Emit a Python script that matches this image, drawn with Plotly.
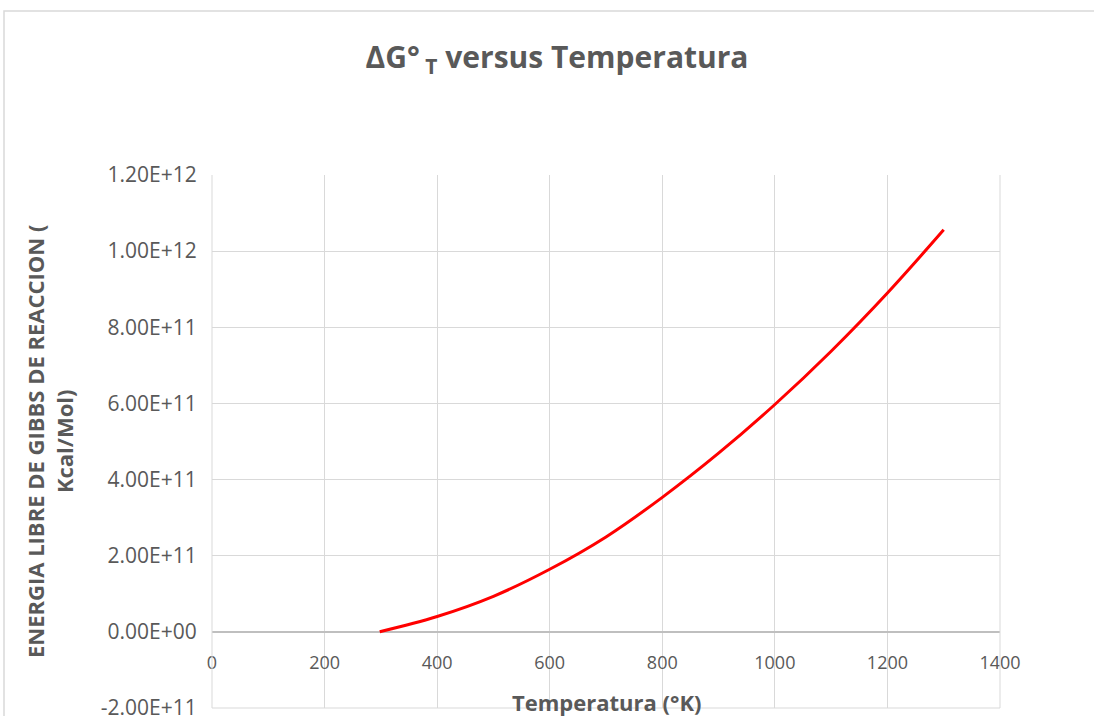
import plotly.graph_objects as go

temperatura = [298, 400, 500, 600, 700, 800, 900, 1000, 1100, 1200, 1300]
delta_g = [0.0, 0.040e12, 0.093e12, 0.164e12, 0.249e12, 0.353e12, 0.469e12, 0.597e12, 0.737e12, 0.890e12, 1.056e12]

y_tickvals = [-2e11, 0, 2e11, 4e11, 6e11, 8e11, 1e12, 1.2e12]
y_ticktext = ["-2.00E+11", "0.00E+00", "2.00E+11", "4.00E+11", "6.00E+11", "8.00E+11", "1.00E+12", "1.20E+12"]
x_tickvals = [0, 200, 400, 600, 800, 1000, 1200, 1400]

W, H = 1094, 716
L, R, T, B = 212, 1000, 175, 708
pw, ph = R - L, B - T

def px(xpix):
    return (xpix - L) / pw

def py(ypix):
    return (B - ypix) / ph

grey = "#595959"
grid = "#d9d9d9"
font_family = "'Open Sans', sans-serif"

fig = go.Figure()
fig.add_trace(go.Scatter(
    x=temperatura, y=delta_g, mode="lines",
    line=dict(color="#ff0000", width=3, shape="spline"),
    showlegend=False, hoverinfo="x+y",
))

fig.update_layout(
    width=W, height=H,
    margin=dict(l=L, r=W - R, t=T, b=H - B, autoexpand=False),
    paper_bgcolor="white", plot_bgcolor="white",
    font=dict(family=font_family, color=grey),
    title=dict(
        text="<b>ΔG°<sub> T</sub> versus Temperatura</b>",
        x=557 / W, xanchor="center", xref="container",
        y=1 - 57 / H, yanchor="middle", yref="container",
        font=dict(size=30, color=grey, family=font_family),
    ),
    xaxis=dict(
        range=[0, 1400], tickvals=x_tickvals,
        showgrid=True, gridcolor=grid, gridwidth=1,
        zeroline=False, showline=False,
        anchor="free", position=py(632),
        ticks="outside", ticklen=14, tickcolor="rgba(0,0,0,0)",
        tickfont=dict(size=18, color=grey, family=font_family),
        ticklabeloverflow="allow", automargin=False,
    ),
    yaxis=dict(
        range=[-2.005e11, 1.2e12], tickvals=y_tickvals, ticktext=y_ticktext,
        showgrid=True, gridcolor=grid, gridwidth=1,
        zeroline=True, zerolinecolor="#bfbfbf", zerolinewidth=1.5,
        showline=False,
        ticks="outside", ticklen=10, tickcolor="rgba(0,0,0,0)",
        tickfont=dict(size=21, color=grey, family=font_family),
        ticklabeloverflow="allow", automargin=False,
    ),
    shapes=[
        dict(type="rect", xref="paper", yref="paper",
             x0=px(4), x1=px(1200), y0=py(800), y1=py(11),
             line=dict(color=grid, width=1.5), fillcolor="rgba(0,0,0,0)", layer="below"),
        dict(type="line", xref="paper", yref="paper",
             x0=0, x1=1, y0=0, y1=0, line=dict(color=grid, width=1)),
        dict(type="line", xref="paper", yref="paper",
             x0=1, x1=1, y0=0, y1=1, line=dict(color=grid, width=1)),
        dict(type="line", xref="paper", yref="paper",
             x0=0, x1=0, y0=0, y1=1, line=dict(color=grid, width=1)),
    ],
    annotations=[
        dict(text="<b>Temperatura (°K)</b>", xref="paper", yref="paper",
             x=0.5, y=py(702), xanchor="center", yanchor="middle",
             showarrow=False, font=dict(size=22, color=grey, family=font_family)),
        dict(text="<b>ENERGIA LIBRE DE GIBBS DE REACCION (<br>Kcal/Mol)</b>",
             xref="paper", yref="paper", x=px(49), y=py(442),
             xanchor="center", yanchor="middle", textangle=-90,
             showarrow=False, font=dict(size=22, color=grey, family=font_family)),
    ],
)

fig.write_html("out.html")
